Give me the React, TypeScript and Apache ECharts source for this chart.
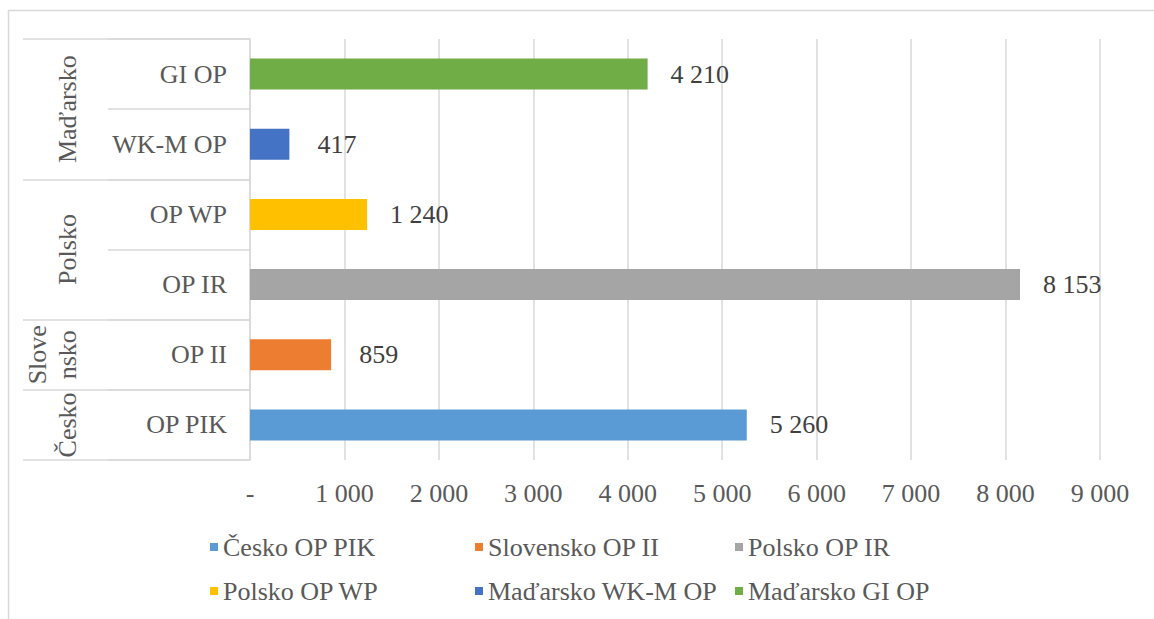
import React, { useEffect, useRef } from "react";
import * as echarts from "echarts";

const groups = ["Česko", "Slovensko", "Polsko", "Polsko", "Maďarsko", "Maďarsko"];
const categories = ["OP PIK", "OP II", "OP IR", "OP WP", "WK-M OP", "GI OP"];
const values = [5260, 859, 8153, 1240, 417, 4210];
const colors = ["#5B9BD5", "#ED7D31", "#A5A5A5", "#FFC000", "#4472C4", "#70AD47"];
const groupLabels: Record<string, string> = {
  "Česko": "Česko",
  "Slovensko": "Slove\nnsko",
  "Polsko": "Polsko",
  "Maďarsko": "Maďarsko",
};
const xTicks = [0, 1000, 2000, 3000, 4000, 5000, 6000, 7000, 8000, 9000];

const FONT = "Liberation Serif";
const fmt = (v: number) => String(v).replace(/\B(?=(\d{3})+(?!\d))/g, " ");

export default function App() {
  const ref = useRef<HTMLDivElement>(null);
  useEffect(() => {
    document.body.style.margin = "0";
    const chart = echarts.init(ref.current!, null, { renderer: "svg" });

    const spans: { name: string; start: number; end: number }[] = [];
    groups.forEach((g, i) => {
      const last = spans[spans.length - 1];
      if (last && last.name === g) last.end = i + 1;
      else spans.push({ name: g, start: i, end: i + 1 });
    });
    const boundaries = [0, ...spans.map((s) => s.end)];
    const centers = spans.map((s) => (s.start + s.end) / 2);

    const names = categories.map((c, i) => `${groups[i]} ${c}`);

    const series = names.map((n, i) => ({
      name: n,
      type: "bar",
      stack: "total",
      barWidth: 31,
      itemStyle: { color: colors[i] },
      label: {
        show: true,
        position: "right",
        distance: fmt(values[i]).length <= 3 ? 28 : 23,
        formatter: (p: any) => fmt(p.value),
        fontFamily: FONT,
        fontSize: 26,
        color: "#404040",
      },
      data: categories.map((_, j) => (j === i ? values[i] : "-")),
    }));

    const legendCols = [0, 1, 2].map((c) => names.filter((_, i) => i % 3 === c));
    const legendLeft = [205, 470, 730];

    chart.setOption({
      animation: false,
      backgroundColor: "#ffffff",
      textStyle: { fontFamily: FONT },
      graphic: [
        {
          type: "rect",
          z: -10,
          shape: { x: 8.5, y: 10.5, width: 1150, height: 620 },
          style: { fill: "none", stroke: "#d9d9d9", lineWidth: 1.5 },
        },
      ],
      grid: { left: 250, right: 54, top: 39, bottom: 159, containLabel: false },
      legend: legendCols.map((col, k) => ({
        orient: "vertical",
        left: legendLeft[k],
        top: 527,
        itemWidth: 8,
        itemHeight: 8,
        itemGap: 14,
        itemTextGap: 9,
        icon: "rect",
        data: col,
        textStyle: { fontFamily: FONT, fontSize: 26, color: "#595959", lineHeight: 30 },
      })),
      xAxis: {
        type: "value",
        min: 0,
        max: 9000,
        interval: 1000,
        axisLine: { show: false },
        axisTick: { show: false },
        splitLine: { show: true, lineStyle: { color: "#d9d9d9", width: 1.5 } },
        axisLabel: {
          margin: 20,
          fontFamily: FONT,
          fontSize: 26,
          color: "#595959",
          customValues: xTicks,
          formatter: (v: number) => (v === 0 ? "-" : fmt(v)),
        },
      },
      yAxis: [
        {
          type: "category",
          data: categories,
          axisLine: { show: true, lineStyle: { color: "#d9d9d9", width: 1.5 } },
          axisTick: { show: true, length: 142, lineStyle: { color: "#d9d9d9", width: 1.5 } },
          axisLabel: { margin: 23, fontFamily: FONT, fontSize: 26, color: "#595959" },
        },
        {
          type: "value",
          min: 0,
          max: categories.length,
          position: "left",
          axisLine: { show: false },
          splitLine: { show: false },
          axisTick: {
            show: true,
            length: 227,
            customValues: boundaries,
            lineStyle: { color: "#d9d9d9", width: 1.5 },
          },
          axisLabel: {
            show: true,
            rotate: 90,
            margin: 168,
            customValues: centers,
            fontFamily: FONT,
            fontSize: 26,
            lineHeight: 30,
            color: "#595959",
            formatter: (v: number) => {
              const idx = centers.findIndex((c) => Math.abs(c - v) < 1e-6);
              return idx >= 0 ? groupLabels[spans[idx].name] : "";
            },
          },
        },
      ],
      series,
    });
    return () => chart.dispose();
  }, []);
  return <div ref={ref} style={{ width: 1154, height: 619 }} />;
}
